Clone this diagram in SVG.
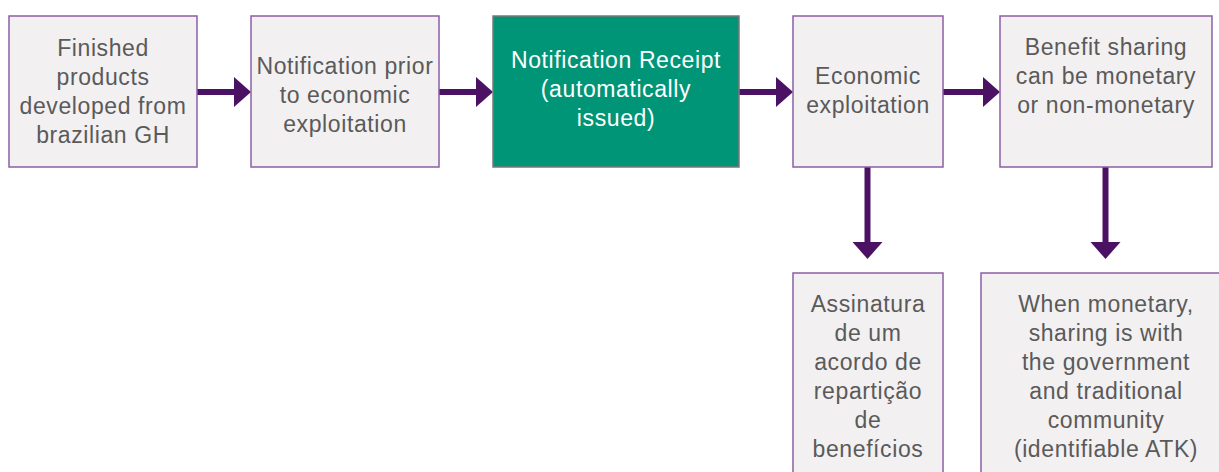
<svg xmlns="http://www.w3.org/2000/svg" width="1219" height="472" viewBox="0 0 1219 472">
  <defs>
    <style>
      .box { fill: #f2f0f1; stroke: #8c5fa3; stroke-width: 1.5; }
      .green { fill: #009577; stroke: #7a7a7a; stroke-width: 1.5; }
      .t { font-family: "Liberation Sans", Arial, sans-serif; font-size: 23px; letter-spacing: 0.6px; fill: #5a5a5a; text-anchor: middle; }
      .tw { fill: #ffffff; }
      .line { stroke: #4b1264; stroke-width: 6; fill: none; }
      .head { fill: #4b1264; }
    </style>
  </defs>
  <rect width="1219" height="472" fill="#ffffff"/>

  <g id="connectors">
    <line class="line" x1="197" y1="92" x2="236" y2="92"/>
    <polygon class="head" points="234,77 251,92 234,107"/>
    <line class="line" x1="439" y1="92" x2="478" y2="92"/>
    <polygon class="head" points="476,77 493,92 476,107"/>
    <line class="line" x1="739" y1="92" x2="778" y2="92"/>
    <polygon class="head" points="776,77 793,92 776,107"/>
    <line class="line" x1="943" y1="92" x2="985" y2="92"/>
    <polygon class="head" points="983,77 1000,92 983,107"/>
    <line class="line" x1="867.5" y1="167" x2="867.5" y2="244"/>
    <polygon class="head" points="852.5,242 882.5,242 867.5,259"/>
    <line class="line" x1="1105.5" y1="167" x2="1105.5" y2="244"/>
    <polygon class="head" points="1090.5,242 1120.5,242 1105.5,259"/>
  </g>

  <g id="node-finished">
    <rect class="box" x="9" y="16" width="188" height="151"/>
    <text class="t" x="103" y="56">Finished</text>
    <text class="t" x="103" y="85">products</text>
    <text class="t" x="103" y="114">developed from</text>
    <text class="t" x="103" y="143">brazilian GH</text>
  </g>

  <g id="node-notification">
    <rect class="box" x="251" y="16" width="188" height="151"/>
    <text class="t" x="345" y="74">Notification prior</text>
    <text class="t" x="345" y="103">to economic</text>
    <text class="t" x="345" y="132">exploitation</text>
  </g>

  <g id="node-receipt">
    <rect class="green" x="493" y="16" width="246" height="151"/>
    <text class="t tw" x="616" y="68">Notification Receipt</text>
    <text class="t tw" x="616" y="97">(automatically</text>
    <text class="t tw" x="616" y="126">issued)</text>
  </g>

  <g id="node-economic">
    <rect class="box" x="793" y="16" width="150" height="151"/>
    <text class="t" x="868" y="84">Economic</text>
    <text class="t" x="868" y="113">exploitation</text>
  </g>

  <g id="node-benefit">
    <rect class="box" x="1000" y="16" width="212" height="151"/>
    <text class="t" x="1106" y="55">Benefit sharing</text>
    <text class="t" x="1106" y="84">can be monetary</text>
    <text class="t" x="1106" y="113">or non-monetary</text>
  </g>

  <g id="node-assinatura">
    <rect class="box" x="793" y="273" width="150" height="220"/>
    <text class="t" x="868" y="312">Assinatura</text>
    <text class="t" x="868" y="341">de um</text>
    <text class="t" x="868" y="370">acordo de</text>
    <text class="t" x="868" y="399">repartição</text>
    <text class="t" x="868" y="428">de</text>
    <text class="t" x="868" y="457">benefícios</text>
  </g>

  <g id="node-monetary">
    <rect class="box" x="981" y="273" width="250" height="220"/>
    <text class="t" x="1106" y="312">When monetary,</text>
    <text class="t" x="1106" y="341">sharing is with</text>
    <text class="t" x="1106" y="370">the government</text>
    <text class="t" x="1106" y="399">and traditional</text>
    <text class="t" x="1106" y="428">community</text>
    <text class="t" x="1106" y="457">(identifiable ATK)</text>
  </g>
</svg>
